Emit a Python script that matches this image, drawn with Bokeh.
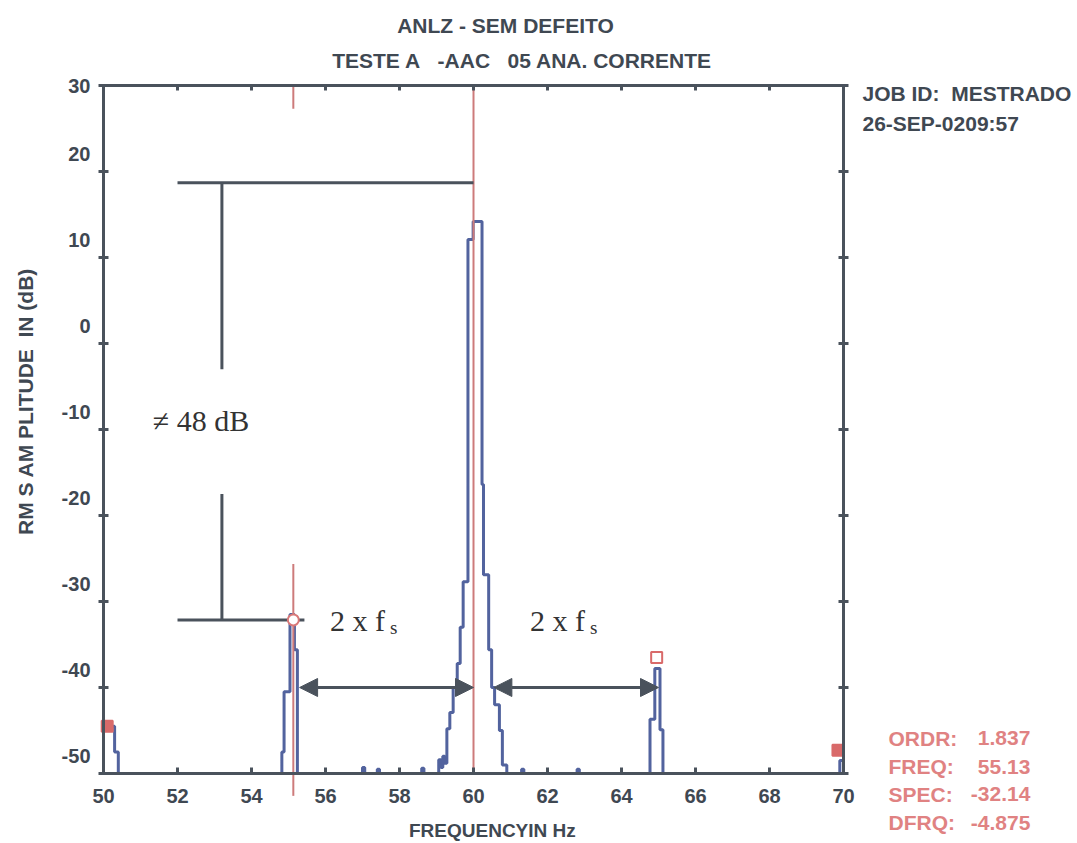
import math
from bokeh.plotting import figure
from bokeh.models import Range1d, FixedTicker, LinearAxis, Label, Arrow, NormalHead
from bokeh.embed import file_html
from bokeh.resources import INLINE

# ---------------- data ----------------
spectrum_freq = [50.00, 50.00, 50.30, 50.40, 54.82, 54.88, 55.04, 55.16, 55.24,
                 57.00, 57.06, 57.40, 57.46, 58.60, 58.66,
                 59.06, 59.12, 59.17, 59.22, 59.28, 59.36, 59.45, 59.56, 59.64,
                 59.72, 59.85, 59.99, 60.23, 60.27, 60.41, 60.49, 60.57, 60.70,
                 60.78, 60.90, 61.30, 61.36, 62.80, 62.86,
                 64.77, 64.90, 65.04, 65.12, 69.90, 70.00]
spectrum_db = [-50.0, -44.5, -47.5, -50.0, -47.5, -40.5, -31.5, -35.6, -50.0,
               -49.3, -50.0, -49.5, -50.0, -49.4, -50.0,
               -48.4, -49.3, -48.0, -48.8, -44.8, -42.9, -40.0, -37.2, -33.0,
               -27.7, 12.1, 14.2, -16.4, -26.9, -35.6, -40.0, -42.0, -45.0,
               -49.0, -50.0, -49.5, -50.0, -49.5, -50.0,
               -43.7, -37.8, -44.9, -50.0, -48.5, -48.5]

x_ticks = [50, 52, 54, 56, 58, 60, 62, 64, 66, 68, 70]
y_ticks = [-50, -40, -30, -20, -10, 0, 10, 20, 30]

fundamental_freq = 60.0
cursor_freq = 55.13
cursor_db = -32.14
carrier_ref_db = 18.7
sideband_arrow_db = -40.0
sideband_spans = [(55.3, 60.0), (60.55, 65.0)]

square_freq = [50.1, 64.95, 69.85]
square_db = [-44.5, -36.5, -47.3]
square_filled = [True, False, True]

NB = "\u00a0"
title_lines = ["ANLZ - SEM DEFEITO", "TESTE A" + NB * 3 + "-AAC" + NB * 3 + "05 ANA. CORRENTE"]
job_lines = ["JOB ID:" + NB * 2 + "MESTRADO", "26-SEP-0209:57"]
readout_names = ["ORDR:", "FREQ:", "SPEC:", "DFRQ:"]
readout_values = ["1.837", "55.13", "-32.14", "-4.875"]
x_label = "FREQUENCYIN Hz"
y_label = "RM S AM PLITUDE" + NB * 2 + "IN (dB)"

# ---------------- styling ----------------
AX = "#4a525c"
TXT = "#3f4852"
BLUE = "#52639e"
RED = "#cd7b7b"
RTXT = "#e08282"
SANS = "Liberation Sans"
SERIF = "Liberation Serif"

# the frame fills the whole page; the axes are pinned to the data box 50..70 x -50..30
p = figure(width=1077, height=843, min_border=0, title=None,
           x_range=Range1d(47.216, 76.324), y_range=Range1d(-58.14, 39.884),
           x_axis_location=None, y_axis_location=None,
           output_backend="svg", toolbar_location=None,
           background_fill_color="white", border_fill_color="white")
p.outline_line_color = None
p.grid.visible = False


def make_axis(ticks, loc, bounds, labels=True, tin=5, tout=5):
    ax = LinearAxis(ticker=FixedTicker(ticks=ticks), fixed_location=loc, bounds=bounds)
    ax.axis_line_color = AX
    ax.axis_line_width = 3
    ax.major_tick_line_color = AX
    ax.major_tick_line_width = 3
    ax.major_tick_in = tin
    ax.major_tick_out = tout
    ax.minor_tick_line_color = None
    ax.major_label_text_color = TXT
    ax.major_label_text_font = SANS
    ax.major_label_text_font_style = "bold"
    ax.major_label_text_font_size = "20px"
    ax.major_label_overrides = {t: str(t) for t in ticks}
    if not labels:
        ax.major_label_text_alpha = 0
        ax.major_label_text_font_size = "1px"
        ax.major_label_standoff = 0
    return ax


bottom = make_axis(x_ticks, -50, (50, 70), tin=6, tout=0)
bottom.major_label_standoff = 16
p.add_layout(bottom, "below")

left = make_axis(y_ticks, 50, (-50, 30))
left.major_label_standoff = 8
# the scanned chart prints the value labels a little above their tick marks
left.major_label_overrides = {t: (str(t) if t == y_ticks[-1] else str(t) + "\n" + NB) for t in y_ticks}
left.major_label_text_line_height = 1.6
left.major_label_text_align = "right"
p.add_layout(left, "left")

p.add_layout(make_axis(x_ticks, 30, (50, 70), labels=False, tin=5, tout=0), "above")
p.add_layout(make_axis(y_ticks, 70, (-50, 30), labels=False), "right")

# spectrum
p.step(spectrum_freq, spectrum_db, mode="after", line_color=BLUE, line_width=3)

# cursor / fundamental lines
p.segment(x0=[fundamental_freq], y0=[-50], x1=[fundamental_freq], y1=[30],
          line_color=RED, line_width=2)
p.segment(x0=[cursor_freq, cursor_freq], y0=[-52.6, 30], x1=[cursor_freq, cursor_freq],
          y1=[cursor_db + 6.5, 27.3], line_color=RED, line_width=2)

# amplitude difference bracket
p.segment(x0=[52.0, 52.0], y0=[carrier_ref_db, cursor_db],
          x1=[fundamental_freq, cursor_freq + 0.3], y1=[carrier_ref_db, cursor_db],
          line_color=AX, line_width=3)
p.segment(x0=[53.2, 53.2], y0=[carrier_ref_db, -17.5], x1=[53.2, 53.2], y1=[-3.0, cursor_db],
          line_color=AX, line_width=3)

# markers
p.scatter([cursor_freq], [cursor_db], marker="circle", size=11, line_color="#d97878",
          fill_color="white", line_width=2)
for f, d, filled in zip(square_freq, square_db, square_filled):
    p.scatter([f], [d], marker="square", size=11, line_color="#d96a6a", line_width=2,
              fill_color="#d96a6a" if filled else "white")

# sideband arrows
for a, b in sideband_spans:
    p.add_layout(Arrow(x_start=a, y_start=sideband_arrow_db, x_end=b, y_end=sideband_arrow_db,
                       line_color=AX, line_width=3,
                       start=NormalHead(size=18, fill_color=AX, line_color=AX),
                       end=NormalHead(size=18, fill_color=AX, line_color=AX)))

# annotation texts
p.add_layout(Label(x=51.33, y=-8.95, text="\u2260 48 dB", text_font=SERIF, text_font_size="30px",
                   text_color="#333333", text_baseline="middle"))
for x0 in (56.12, 61.53):
    p.add_layout(Label(x=x0, y=-32.2, text="2 x f", text_font=SERIF, text_font_size="30px",
                       text_color="#333333", text_baseline="middle"))
    p.add_layout(Label(x=x0 + 1.62, y=-33.0, text="s", text_font=SERIF, text_font_size="19px",
                       text_color="#333333", text_baseline="middle"))

# titles
p.add_layout(Label(x=60.865, y=36.98, text=title_lines[0], text_font=SANS, text_font_style="bold",
                   text_font_size="21px", text_color=TXT, text_align="center", text_baseline="middle"))
p.add_layout(Label(x=61.32, y=32.91, text=title_lines[1], text_font=SANS, text_font_style="bold",
                   text_font_size="21px", text_color=TXT, text_align="center", text_baseline="middle"))

# axis titles
p.add_layout(Label(x=60.51, y=-56.63, text=x_label, text_font=SANS, text_font_style="bold",
                   text_font_size="19px", text_color=TXT, text_align="center", text_baseline="middle"))
p.add_layout(Label(x=47.89, y=-6.74, text=y_label, angle=math.pi / 2, text_font=SANS,
                   text_font_style="bold", text_font_size="21px", text_color=TXT,
                   text_align="center", text_baseline="middle"))

# job info
for txt, yy in zip(job_lines, [29.07, 25.58]):
    p.add_layout(Label(x=70.513, y=yy, text=txt, text_font=SANS, text_font_style="bold",
                       text_font_size="21px", text_color=TXT, text_baseline="middle"))

# cursor readout
for name, val, yy in zip(readout_names, readout_values, [-45.93, -49.19, -52.44, -55.70]):
    p.add_layout(Label(x=71.216, y=yy, text=name, text_font=SANS, text_font_style="bold",
                       text_font_size="21px", text_color=RTXT, text_baseline="middle"))
    p.add_layout(Label(x=75.05, y=yy, text=val, text_font=SANS, text_font_style="bold",
                       text_font_size="21px", text_color=RTXT, text_align="right",
                       text_baseline="middle"))

open("out.html", "w").write(file_html(p, INLINE))
